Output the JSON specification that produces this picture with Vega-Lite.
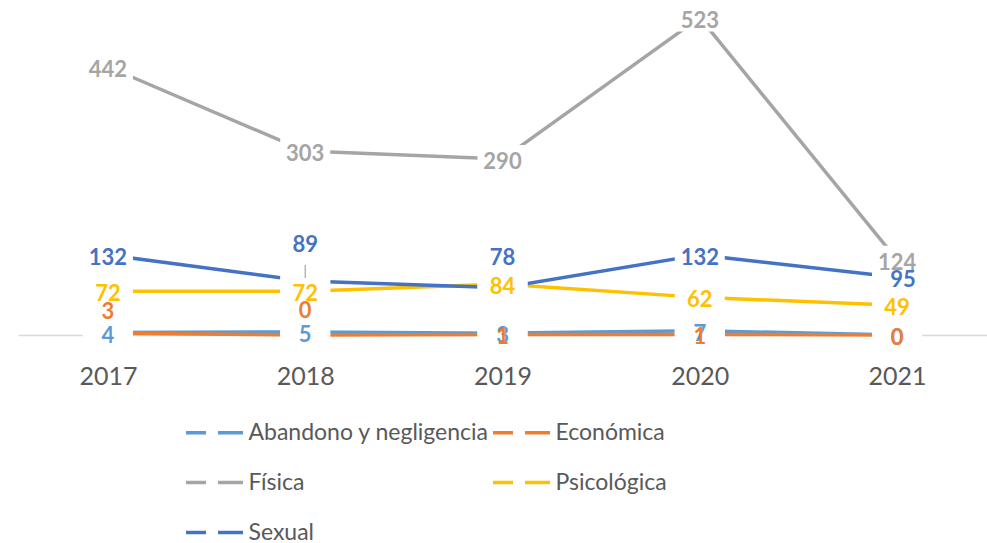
{
  "$schema": "https://vega.github.io/schema/vega-lite/v6.json",
  "width": 969,
  "height": 335,
  "autosize": "none",
  "padding": {"left": 18, "top": 0, "right": 0, "bottom": 208},
  "background": "white",
  "config": {"view": {"stroke": null}, "font": "Lato"},
  "data": {
    "values": [
      {"year": "2017", "serie": "Abandono y negligencia", "value": 4},
      {"year": "2018", "serie": "Abandono y negligencia", "value": 5},
      {"year": "2019", "serie": "Abandono y negligencia", "value": 3},
      {"year": "2020", "serie": "Abandono y negligencia", "value": 7},
      {"year": "2021", "serie": "Abandono y negligencia", "value": 0},
      {"year": "2017", "serie": "Económica", "value": 3},
      {"year": "2018", "serie": "Económica", "value": 0},
      {"year": "2019", "serie": "Económica", "value": 1},
      {"year": "2020", "serie": "Económica", "value": 1},
      {"year": "2021", "serie": "Económica", "value": 0},
      {"year": "2017", "serie": "Física", "value": 442},
      {"year": "2018", "serie": "Física", "value": 303},
      {"year": "2019", "serie": "Física", "value": 290},
      {"year": "2020", "serie": "Física", "value": 523},
      {"year": "2021", "serie": "Física", "value": 124},
      {"year": "2017", "serie": "Psicológica", "value": 72},
      {"year": "2018", "serie": "Psicológica", "value": 72},
      {"year": "2019", "serie": "Psicológica", "value": 84},
      {"year": "2020", "serie": "Psicológica", "value": 62},
      {"year": "2021", "serie": "Psicológica", "value": 49},
      {"year": "2017", "serie": "Sexual", "value": 132},
      {"year": "2018", "serie": "Sexual", "value": 89},
      {"year": "2019", "serie": "Sexual", "value": 78},
      {"year": "2020", "serie": "Sexual", "value": 132},
      {"year": "2021", "serie": "Sexual", "value": 95}
    ]
  },
  "encoding": {
    "x": {
      "field": "year",
      "type": "ordinal",
      "scale": {"type": "point", "padding": 0.456},
      "axis": {
        "title": null,
        "labelAngle": 0,
        "labelFont": "Lato",
        "labelFontSize": 25,
        "labelColor": "#595959",
        "ticks": false,
        "grid": false,
        "domainColor": "#D9D9D9",
        "domainWidth": 1.5,
        "labelPadding": 29
      }
    },
    "y": {
      "field": "value",
      "type": "quantitative",
      "scale": {"domain": [0, 552], "nice": false},
      "axis": null
    }
  },
  "layer": [
    {
      "mark": {"type": "line", "strokeWidth": 3.5, "strokeCap": "butt"},
      "encoding": {
        "color": {
          "field": "serie",
          "type": "nominal",
          "scale": {
            "domain": ["Abandono y negligencia", "Económica", "Física", "Psicológica", "Sexual"],
            "range": ["#5B9BD5", "#ED7D31", "#A5A5A5", "#FFC000", "#4472C4"]
          },
          "legend": {
            "title": null,
            "orient": "none",
            "legendX": 185,
            "legendY": 421,
            "direction": "horizontal",
            "columns": 2,
            "symbolType": "M-5.7,0H-1.7M0.7,0H5.7",
            "symbolSize": 100,
            "symbolStrokeWidth": 3.5,
            "labelFont": "Lato",
            "labelFontSize": 23,
            "labelColor": "#595959",
            "labelOffset": 22.5,
            "rowPadding": 26,
            "columnPadding": -4,
            "labelLimit": 400,
            "padding": 0
          }
        }
      }
    },
    {
      "mark": {"type": "point", "shape": "M-5,-2.8H5V2.8H-5Z", "size": 100, "filled": true, "color": "white", "opacity": 1, "strokeWidth": 0}
    },
    {
      "transform": [{"filter": "datum.serie=='Sexual' && datum.year=='2018'"}],
      "mark": {"type": "rule", "color": "#A5A5A5", "strokeWidth": 1.2, "yOffset": -16, "y2Offset": -3},
      "encoding": {"y2": {"field": "value"}}
    },
    {
      "mark": {
        "type": "text",
        "font": "Lato",
        "fontWeight": "bold",
        "fontSize": 22,
        "baseline": "middle",
        "dy": {"expr": "datum.serie=='Económica' && datum.year=='2017' ? -21 : datum.serie=='Económica' && datum.year=='2018' ? -24 : datum.serie=='Sexual' && datum.year=='2018' ? -36 : datum.serie=='Sexual' && datum.year=='2019' ? -30 : 3"},
        "dx": {"expr": "datum.serie=='Sexual' && datum.year=='2021' ? 6 : 0"}
      },
      "encoding": {
        "text": {"field": "value", "type": "quantitative"},
        "color": {"field": "serie", "type": "nominal", "legend": null}
      }
    }
  ]
}
